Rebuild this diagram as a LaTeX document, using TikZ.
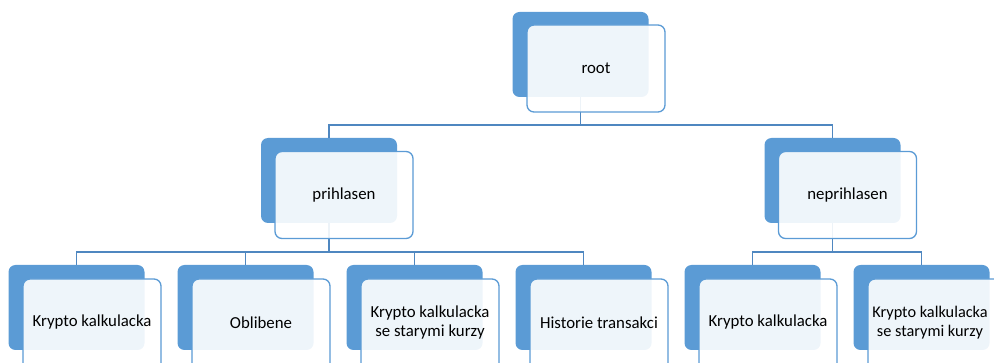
\documentclass[tikz,border=0pt]{standalone}
\usepackage{fontspec}
\setmainfont{Carlito}
\usetikzlibrary{calc}
\definecolor{backblue}{HTML}{5B9BD5}
\definecolor{edgeblue}{HTML}{5B9BD5}
\definecolor{linkblue}{HTML}{4F87C0}
\begin{document}
\begin{tikzpicture}[x=1pt,y=-1pt,
  backbox/.style={draw=none,fill=backblue,rounded corners=7pt,minimum width=136pt,minimum height=85pt,inner sep=0pt},
  frontbox/.style={draw=edgeblue,line width=1.3pt,fill=white,fill opacity=0.9,text opacity=1,rounded corners=7pt,minimum width=138pt,minimum height=87pt,inner sep=0pt,align=center,font=\fontsize{16.8}{19}\selectfont},
  lowbox/.style={frontbox,minimum height=97pt},
  boxtext/.style={inner sep=0pt,align=center,font=\fontsize{16.8}{19}\selectfont},
  link/.style={draw=linkblue,line width=1.6pt}]
\useasboundingbox (0,0) rectangle (994,363);
\clip (0,0) rectangle (994,363);
% back boxes
\node[backbox] (rootB) at (580.5,54.5) {};
\node[backbox] (pB) at (329,180.5) {};
\node[backbox] (nB) at (832.5,180.5) {};
\node[backbox] (c1B) at (76.5,307.5) {};
\node[backbox] (c2B) at (245.5,307.5) {};
\node[backbox] (c3B) at (414.5,307.5) {};
\node[backbox] (c4B) at (583.5,307.5) {};
\node[backbox] (c5B) at (752.5,307.5) {};
\node[backbox] (c6B) at (921.5,307.5) {};
% connectors
\coordinate (j0) at ($(rootB.south)+(0,28)$);
\path[link] (rootB.south) -- (j0);
\path[link] (pB.north) |- (j0) -| (nB.north);
\coordinate (j1) at ($(pB.south)+(0,29)$);
\path[link] (pB.south) -- (j1);
\path[link] (c1B.north) |- (j1) -| (c4B.north);
\path[link] (c2B.north) -- (c2B.north |- j1);
\path[link] (c3B.north) -- (c3B.north |- j1);
\coordinate (j2) at ($(nB.south)+(0,29)$);
\path[link] (nB.south) -- (j2);
\path[link] (c5B.north) |- (j2) -| (c6B.north);
% front boxes
\node[frontbox] (root) at ($(rootB)+(15.5,14)$) {root};
\node[frontbox] (p) at ($(pB)+(15,14.5)$) {prihlasen};
\node[frontbox] (n) at ($(nB)+(15,14.5)$) {neprihlasen};
\node[lowbox] (c1) at ($(c1B)+(15.5,20)$) {};
\node[lowbox] (c2) at ($(c2B)+(15.5,20)$) {};
\node[lowbox] (c3) at ($(c3B)+(15.5,20)$) {};
\node[lowbox] (c4) at ($(c4B)+(15.5,20)$) {};
\node[lowbox] (c5) at ($(c5B)+(15.5,20)$) {};
\node[lowbox] (c6) at ($(c6B)+(15.5,20)$) {};
% texts of the lowest row
\node[boxtext] (c1t) at ($(c1)+(0,-5)$) {Krypto kalkulacka};
\node[boxtext] (c2t) at ($(c2)+(0,-5)$) {Oblibene};
\node[boxtext] (c3t) at ($(c3)+(0,-5)$) {Krypto kalkulacka\\se starymi kurzy};
\node[boxtext] (c4t) at ($(c4)+(0,-5)$) {Historie transakci};
\node[boxtext] (c5t) at ($(c5)+(0,-5)$) {Krypto kalkulacka};
\node[boxtext,font=\fontsize{16.3}{19}\selectfont] (c6t) at ($(c6)+(-7,-5)$) {Krypto kalkulacka\\se starymi kurzy};
\end{tikzpicture}
\end{document}
